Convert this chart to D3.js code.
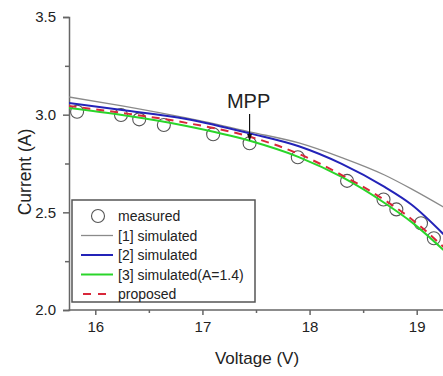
<!DOCTYPE html>
<html><head><meta charset="utf-8">
<script src="https://cdn.jsdelivr.net/npm/d3@7"></script>
<style>
body{margin:0;background:#fff;}
text{font-family:"Liberation Sans",Arial,sans-serif;fill:#222;}
</style></head>
<body><svg id="c" width="443" height="376"></svg>
<script>
const voltage = [15.75, 16.25, 16.85, 17.45, 17.9, 18.3, 18.7, 18.95, 19.25];
const sim1 = [3.091, 3.045, 2.983, 2.911, 2.855, 2.780, 2.691, 2.620, 2.527];
const sim2 = [3.060, 3.024, 2.978, 2.903, 2.838, 2.748, 2.630, 2.540, 2.388];
const sim3 = [3.034, 2.998, 2.942, 2.865, 2.783, 2.681, 2.548, 2.451, 2.307];
const proposed = [3.045, 3.009, 2.958, 2.886, 2.799, 2.691, 2.563, 2.466, 2.323];
const measuredV = [15.83, 16.24, 16.41, 16.64, 17.10, 17.44, 17.89, 18.35, 18.69, 18.81, 19.04, 19.16];
const measuredI = [3.015, 2.998, 2.976, 2.947, 2.900, 2.854, 2.782, 2.661, 2.566, 2.515, 2.444, 2.367];
const xTicks = [16, 17, 18, 19];
const xMinor = [16.5, 17.5, 18.5];
const yTicks = [2.0, 2.5, 3.0, 3.5];
const yMinor = [2.25, 2.75, 3.25];
const legendLabels = ["measured", "[1] simulated", "[2] simulated", "[3] simulated(A=1.4)", "proposed"];

const svg = d3.select("#c");
const x = d3.scaleLinear().domain([15.75, 19.25]).range([68.5, 443.5]);
const y = d3.scaleLinear().domain([2.0, 3.5]).range([310, 17]);
const axisColor = "#666";

svg.append("defs").append("clipPath").attr("id","clip")
  .append("rect").attr("x",69).attr("y",17).attr("width",376).attr("height",293);

// axes
const xa = svg.append("g").attr("transform","translate(0,310)")
  .call(d3.axisBottom(x).tickValues(xTicks).tickFormat(d3.format("d")).tickSize(5).tickPadding(6));
xa.select(".domain").attr("d", `M${x.range()[0]},0H${x.range()[1]}`);
const xm = svg.append("g").attr("transform","translate(0,310)")
  .call(d3.axisBottom(x).tickValues(xMinor).tickFormat("").tickSize(3));
xm.select(".domain").remove();
const ya = svg.append("g").attr("transform","translate(69,0)")
  .call(d3.axisLeft(y).tickValues(yTicks).tickFormat(d3.format(".1f")).tickSize(6).tickPadding(7));
const ym = svg.append("g").attr("transform","translate(69,0)")
  .call(d3.axisLeft(y).tickValues(yMinor).tickFormat("").tickSize(4));
ym.select(".domain").remove();
svg.selectAll(".domain, .tick line").attr("stroke",axisColor).attr("stroke-width",1.5);
svg.selectAll(".tick text").attr("font-size",15).attr("font-family","Liberation Sans, Arial, sans-serif").attr("fill","#222");

// titles
svg.append("text").attr("x",257).attr("y",364).attr("text-anchor","middle").attr("font-size",17).text("Voltage (V)");
svg.append("text").attr("transform","translate(31,172) rotate(-90)").attr("text-anchor","middle").attr("font-size",17.5).text("Current (A)");

const plot = svg.append("g").attr("clip-path","url(#clip)");

// measured circles
plot.selectAll("circle.m").data(measuredV).enter().append("circle")
  .attr("cx",(d)=>x(d)).attr("cy",(d,i)=>y(measuredI[i])).attr("r",6.5)
  .attr("fill","none").attr("stroke","#555").attr("stroke-width",1.1);

const line = d3.line().x((d,i)=>x(voltage[i])).y(d=>y(d)).curve(d3.curveMonotoneX);
const series = [
  {vals: sim1, color:"#8a8a8a", w:1.3, dash:null},
  {vals: sim2, color:"#2323b8", w:2, dash:null},
  {vals: sim3, color:"#2ad52a", w:2, dash:null},
  {vals: proposed, color:"#d8283a", w:2, dash:"8,6"}
];
series.forEach(s=>{
  plot.append("path").attr("d",line(s.vals)).attr("fill","none")
    .attr("stroke",s.color).attr("stroke-width",s.w).attr("stroke-dasharray",s.dash);
});

// MPP annotation
const mx = x(17.44);
svg.append("text").attr("x",mx-1).attr("y",108).attr("text-anchor","middle").attr("font-size",20).text("MPP");
svg.append("line").attr("x1",mx).attr("x2",mx).attr("y1",114).attr("y2",140).attr("stroke","#111").attr("stroke-width",1.2);
svg.append("path").attr("d",`M${mx-2.5},134L${mx},141L${mx+2.5},134Z`).attr("fill","#111");

// legend
const lg = svg.append("g");
lg.append("rect").attr("x",72).attr("y",200).attr("width",183).attr("height",102)
  .attr("fill","#fff").attr("stroke","#555").attr("stroke-width",1.5);
legendLabels.forEach((lab,i)=>{
  const cy = 216 + i*19.5;
  if(i===0){
    lg.append("circle").attr("cx",98).attr("cy",cy).attr("r",6.5).attr("fill","none").attr("stroke","#555").attr("stroke-width",1.1);
  } else {
    const s = series[i-1];
    lg.append("line").attr("x1",81).attr("x2",113).attr("y1",cy).attr("y2",cy)
      .attr("stroke",s.color).attr("stroke-width",s.w).attr("stroke-dasharray",s.dash?"8,7":null)
      .attr("stroke-dashoffset", s.dash? -2: null);
  }
  lg.append("text").attr("x",118).attr("y",cy+5).attr("font-size",14).text(lab);
});
</script></body></html>
